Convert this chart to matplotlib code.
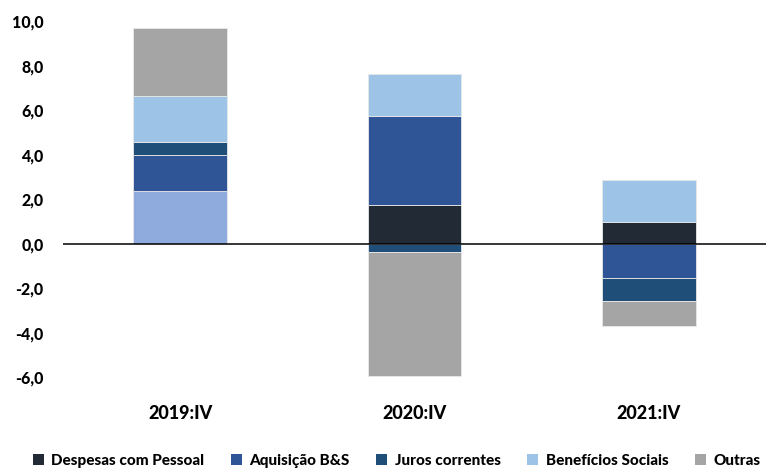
import numpy as np
import matplotlib.pyplot as plt
from matplotlib.patches import Patch

plt.rcParams['font.family'] = ['Lato', 'DejaVu Sans']

# --- Data ---
periods = ["2019:IV", "2020:IV", "2021:IV"]
series = ["Despesas com Pessoal", "Aquisição B&S", "Juros correntes",
          "Benefícios Sociais", "Outras"]
despesas = [2.34, 1.74, 0.96]
aquisicao = [1.66, 3.98, -1.55]
juros = [0.55, -0.40, -1.05]
beneficios = [2.10, 1.88, 1.88]
outras = [3.02, -5.55, -1.10]
values = [despesas, aquisicao, juros, beneficios, outras]

colors = ["#222A35", "#2F5597", "#1F4E79", "#9DC3E6", "#A5A5A5"]
first_bar_color = "#8FAADC"  # 2019 staff-costs bar has its own fill

# --- Figure ---
fig = plt.figure(figsize=(7.66, 4.68), dpi=100)
ax = fig.add_axes([63 / 766, 1 - 377 / 468, 703 / 766, 356 / 468])

x = np.arange(len(periods))
pos_base = np.zeros(len(periods))
neg_base = np.zeros(len(periods))
for name, vals, col in zip(series, values, colors):
    vals = np.array(vals)
    bottoms = np.where(vals >= 0, pos_base, neg_base)
    cols = [col] * len(periods)
    if name == "Despesas com Pessoal":
        cols[0] = first_bar_color
    ax.bar(x, vals, width=0.4, bottom=bottoms, color=cols,
           edgecolor="#E8E8E8", linewidth=0.6, zorder=2)
    pos_base = pos_base + np.where(vals >= 0, vals, 0)
    neg_base = neg_base + np.where(vals < 0, vals, 0)

ax.axhline(0, color="black", linewidth=1.1, zorder=3)

ax.set_xlim(-0.5, 2.5)
ax.set_ylim(-6, 10)
ax.set_yticks(np.arange(-6, 11, 2))
ax.set_yticklabels([f"{v:.1f}".replace(".", ",") for v in np.arange(-6, 11, 2)],
                   fontsize=11.5, fontweight="black")
ax.set_xticks(x)
ax.set_xticklabels(periods, fontsize=13, fontweight="black")
ax.tick_params(axis="y", length=0, pad=14)
ax.tick_params(axis="x", length=0, pad=20)
for s in ax.spines.values():
    s.set_visible(False)

handles = [Patch(facecolor=c, edgecolor="none") for c in colors]
fig.legend(handles, series, loc="center left", bbox_to_anchor=(33 / 766, 1 - 461 / 468),
           ncol=5, frameon=False, borderpad=0, borderaxespad=0,
           handlelength=0.7, handleheight=0.7,
           handletextpad=0.5, columnspacing=1.75,
           prop={"size": 11, "weight": "black"})

fig.savefig("out.png", dpi=100)
